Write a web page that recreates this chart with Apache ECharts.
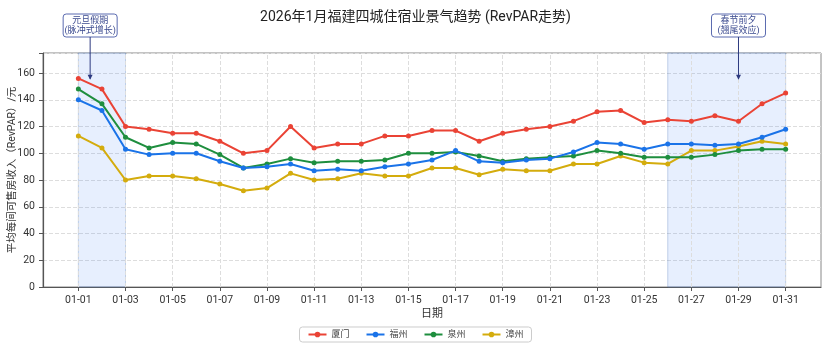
<!DOCTYPE html>
<html><head><meta charset="utf-8">
<script src="https://cdn.jsdelivr.net/npm/echarts@6/dist/echarts.min.js"></script>
<style>html,body{margin:0;padding:0;background:#fff}#c{width:831px;height:356px}</style>
</head><body><div id="c"></div>
<script>
const dates = ['01-01','01-02','01-03','01-04','01-05','01-06','01-07','01-08','01-09','01-10','01-11','01-12','01-13','01-14','01-15','01-16','01-17','01-18','01-19','01-20','01-21','01-22','01-23','01-24','01-25','01-26','01-27','01-28','01-29','01-30','01-31'];
const xiamen =   [156,148,120,118,115,115,109,100,102,120,104,107,107,113,113,117,117,109,115,118,120,124,131,132,123,125,124,128,124,137,145];
const fuzhou =   [140,132,103, 99,100,100, 94, 89, 90, 92, 87, 88, 87, 90, 92, 95,102, 94, 93, 95, 96,101,108,107,103,107,107,106,107,112,118];
const quanzhou = [148,137,112,104,108,107, 99, 89, 92, 96, 93, 94, 94, 95,100,100,101, 98, 94, 96, 97, 98,102,100, 97, 97, 97, 99,102,103,103];
const zhangzhou= [113,104, 80, 83, 83, 81, 77, 72, 74, 85, 80, 81, 85, 83, 83, 89, 89, 84, 88, 87, 87, 92, 92, 98, 93, 92,102,102,105,109,107];
const seriesNames = ['厦门','福州','泉州','漳州'];
const colors = ['#EA4335','#1A73E8','#1E8E3E','#D4AC0D'];
const xTickDates = ['01-01','01-03','01-05','01-07','01-09','01-11','01-13','01-15','01-17','01-19','01-21','01-23','01-25','01-27','01-29','01-31'];
const shadeRanges = [['01-01','01-03'],['01-26','01-31']];
const annoTexts = ['元旦假期\n(脉冲式增长)','春节前夕\n(翘尾效应)'];
const annoDates = [0.5, 28];   // day index where arrow points
const annoValues = [155, 155];
const yTicks = [0,20,40,60,80,100,120,140,160];

const idx = d => dates.indexOf(d);
const mk = arr => arr.map((v,i)=>[i,v]);
const allSeries = [xiamen,fuzhou,quanzhou,zhangzhou];
const tickIdx = xTickDates.map(idx);

const chart = echarts.init(document.getElementById('c'), null, {renderer:'canvas'});
const FONT = 'Roboto, "Noto Sans CJK SC", sans-serif';
const series = allSeries.map((arr,k)=>({
  name: seriesNames[k], type:'line', data: mk(arr), symbol:'circle', symbolSize:5,
  lineStyle:{width:2, color:colors[k]}, itemStyle:{color:colors[k]}, z: 10-k,
  markArea: k===0 ? {silent:true, itemStyle:{color:'rgba(66,133,244,0.13)', borderColor:'rgba(90,130,190,0.35)', borderWidth:1},
     data: shadeRanges.map(r=>[{xAxis:idx(r[0])},{xAxis:idx(r[1])}])} : undefined,
  markLine: k===0 ? {silent:true, symbol:'none', label:{show:false}, z:1,
     lineStyle:{color:'#ddd', type:'dashed', width:1},
     data: tickIdx.map(t=>({xAxis:t}))} : undefined
}));

chart.setOption({
  animation:false,
  textStyle:{fontFamily:FONT},
  title:{text:'2026年1月福建四城住宿业景气趋势 (RevPAR走势)', left:'center', top:6,
    textStyle:{fontSize:14, fontWeight:'normal', color:'#222', fontFamily:FONT}},
  grid:{left:43, right:10, top:53, bottom:69, outerBoundsMode:'none', containLabel:false,
    show:true, borderColor:'#888', borderWidth:1, backgroundColor:'transparent'},
  legend:{bottom:14, left:'center', itemWidth:18, itemHeight:7, itemGap:16, padding:[3,8],
    borderColor:'#ccc', borderWidth:1, borderRadius:3,
    textStyle:{fontSize:9, color:'#444', fontFamily:FONT}, data: seriesNames},
  xAxis:{type:'value', min:-1.5, max:31.5, name:'日期', nameLocation:'middle', nameGap:22, nameMoveOverlap:false,
    nameTextStyle:{fontSize:11, color:'#333'},
    axisLine:{onZero:false, lineStyle:{color:'#555', width:1.2}},
    axisTick:{show:true, customValues: tickIdx, lineStyle:{color:'#555'}, length:4},
    axisLabel:{customValues: tickIdx, formatter: v => dates[Math.round(v)] || '', fontSize:10.5, color:'#333', margin:8},
    splitLine:{show:false}},
  yAxis:{type:'value', min:0, max:175, interval:20,
    name:'平均每间可售房收入（RevPAR）/元', nameLocation:'middle', nameGap:25, nameMoveOverlap:false,
    nameTextStyle:{fontSize:10.5, color:'#333'},
    axisLine:{show:true, onZero:false, lineStyle:{color:'#555', width:1.2}},
    axisTick:{show:true, lineStyle:{color:'#555'}, length:4},
    axisLabel:{fontSize:10.5, color:'#333', formatter: v => yTicks.indexOf(v) >= 0 ? String(v) : ''},
    splitLine:{show:true, lineStyle:{color:'#ddd', type:'dashed'}}},
  series
});

// annotations
const g = [];
annoTexts.forEach((t,i)=>{
  const p = chart.convertToPixel({gridIndex:0}, [annoDates[i], annoValues[i]]);
  const boxW = 54, boxH = 23, boxBottom = 37;
  const cx = p[0];
  g.push({type:'rect', shape:{x:cx-boxW/2, y:boxBottom-boxH, width:boxW, height:boxH, r:3},
    style:{fill:'#fff', stroke:'#5b6bb0', lineWidth:1}, z:100});
  g.push({type:'text', x:cx, y:boxBottom-boxH/2, style:{text:t, fill:'#3b4a8f', font:'9px '+FONT, align:'center', verticalAlign:'middle', lineHeight:10.5}, z:101});
  g.push({type:'line', shape:{x1:cx, y1:boxBottom, x2:cx, y2:p[1]-1}, style:{stroke:'#2d3a80', lineWidth:1}, z:100});
  g.push({type:'polygon', shape:{points:[[cx-2.5,p[1]-5],[cx+2.5,p[1]-5],[cx,p[1]]]}, style:{fill:'#2d3a80'}, z:100});
});
chart.setOption({graphic: g});
</script></body></html>
